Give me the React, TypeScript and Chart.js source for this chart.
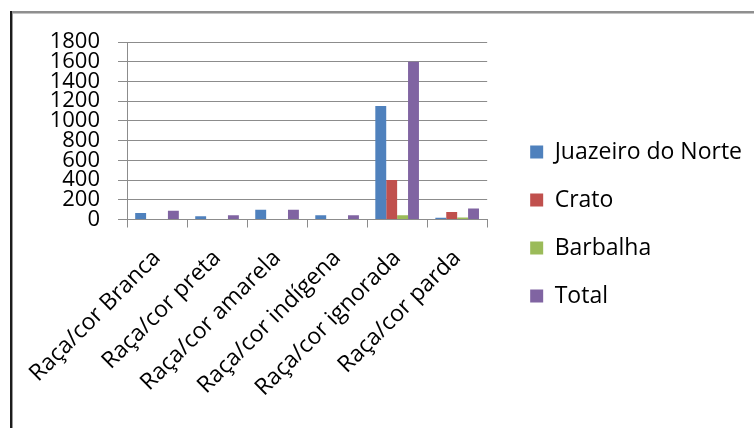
import { useEffect, useRef } from "react";
import { Chart, registerables } from "chart.js";

Chart.register(...registerables);

// Categories and series values
const categories = [
  "Raça/cor Branca",
  "Raça/cor preta",
  "Raça/cor amarela",
  "Raça/cor indígena",
  "Raça/cor ignorada",
  "Raça/cor parda",
];
const juazeiro = [65, 33, 100, 44, 1150, 18];
const crato = [0, 0, 0, 0, 400, 76];
const barbalha = [0, 0, 0, 0, 44, 20];
const total = [88, 44, 100, 44, 1600, 112];

const seriesNames = ["Juazeiro do Norte", "Crato", "Barbalha", "Total"];
const seriesColors = ["#4F81BD", "#C0504D", "#9BBB59", "#8064A2"];

const yMax = 1800;
const yStep = 200;

const FONT = "'Open Sans', 'Noto Sans', sans-serif";
const GRID = "#8c8c8c";

const W = 754;
const LEGEND_FONT = 23;
const LEGEND_BOX = 13;
const LEGEND_PAD = 25;
const PLOT_RIGHT = 485;
const GAP_RIGHT = 18; // spacer between plot and legend

export default function App() {
  const canvasRef = useRef<HTMLCanvasElement | null>(null);

  useEffect(() => {
    const canvas = canvasRef.current;
    if (!canvas) return;

    // Legend width depends on its longest label; size the right padding so the plot ends at PLOT_RIGHT
    const ctx = canvas.getContext("2d")!;
    ctx.font = `${LEGEND_FONT}px ${FONT}`;
    const textW = Math.max(...seriesNames.map((s) => ctx.measureText(s).width));
    const legendW = Math.ceil(LEGEND_PAD + LEGEND_BOX + LEGEND_FONT / 2 + textW + 12);
    const padRight = Math.max(0, W - PLOT_RIGHT - GAP_RIGHT - legendW);

    const values = [juazeiro, crato, barbalha, total];
    const chart = new Chart(canvas, {
      type: "bar",
      data: {
        labels: categories,
        datasets: values.map((data, i) => ({
          label: seriesNames[i],
          data,
          backgroundColor: seriesColors[i],
          borderWidth: 0,
          categoryPercentage: 0.727,
          barPercentage: 1.0,
          yAxisID: "y",
        })),
      },
      options: {
        responsive: false,
        animation: false,
        layout: { padding: { left: 14, top: 42, right: padRight, bottom: 22 } },
        plugins: {
          tooltip: { enabled: false },
          title: { display: false },
          legend: {
            position: "right",
            align: "center",
            maxWidth: legendW,
            labels: {
              boxWidth: LEGEND_BOX,
              boxHeight: LEGEND_BOX,
              padding: LEGEND_PAD,
              color: "#000",
              font: { family: FONT, size: LEGEND_FONT, lineHeight: 1.2 },
            },
          },
        },
        scales: {
          x: {
            offset: true,
            grid: {
              offset: true,
              drawOnChartArea: false,
              drawTicks: true,
              tickLength: 8,
              color: GRID,
            },
            border: { display: true, color: GRID },
            ticks: {
              autoSkip: false,
              minRotation: 45,
              maxRotation: 45,
              padding: 17,
              color: "#000",
              font: { family: FONT, size: 23 },
            },
            afterFit: (s: any) => {
              s.height = 186.5;
            },
          },
          y: {
            position: "left",
            min: 0,
            max: yMax,
            grid: { color: GRID, drawTicks: true, tickLength: 9 },
            border: { display: true, color: GRID },
            ticks: {
              stepSize: yStep,
              autoSkip: false,
              padding: 18,
              color: "#000",
              font: { family: FONT, size: 22, lineHeight: 1 },
              callback: (v: any) => String(v),
            },
            afterFit: (s: any) => {
              s.width = 113;
            },
          },
          y2: {
            position: "right",
            display: true,
            grid: { display: false, drawTicks: false },
            border: { display: false },
            ticks: { display: false },
            afterFit: (s: any) => {
              s.width = GAP_RIGHT;
            },
          },
        },
      },
    });
    return () => chart.destroy();
  }, []);

  return (
    <div
      style={{
        position: "fixed",
        left: 0,
        top: 0,
        width: 754,
        height: 428,
        background: "#fff",
        overflow: "hidden",
      }}
    >
      <canvas
        ref={canvasRef}
        width={754}
        height={428}
        style={{ position: "absolute", left: 0, top: 0, width: 754, height: 428 }}
      />
      {/* frame edges */}
      <div style={{ position: "absolute", left: 10, top: 11, right: 0, height: 2, background: "#8f8f8f" }} />
      <div style={{ position: "absolute", left: 10, top: 13, right: 0, height: 1, background: "#c4c4c4" }} />
      <div style={{ position: "absolute", left: 10, top: 11, bottom: 0, width: 2, background: "#1c1c1c" }} />
      <div style={{ position: "absolute", left: 12, top: 13, bottom: 0, width: 1, background: "#9a9a9a" }} />
    </div>
  );
}
